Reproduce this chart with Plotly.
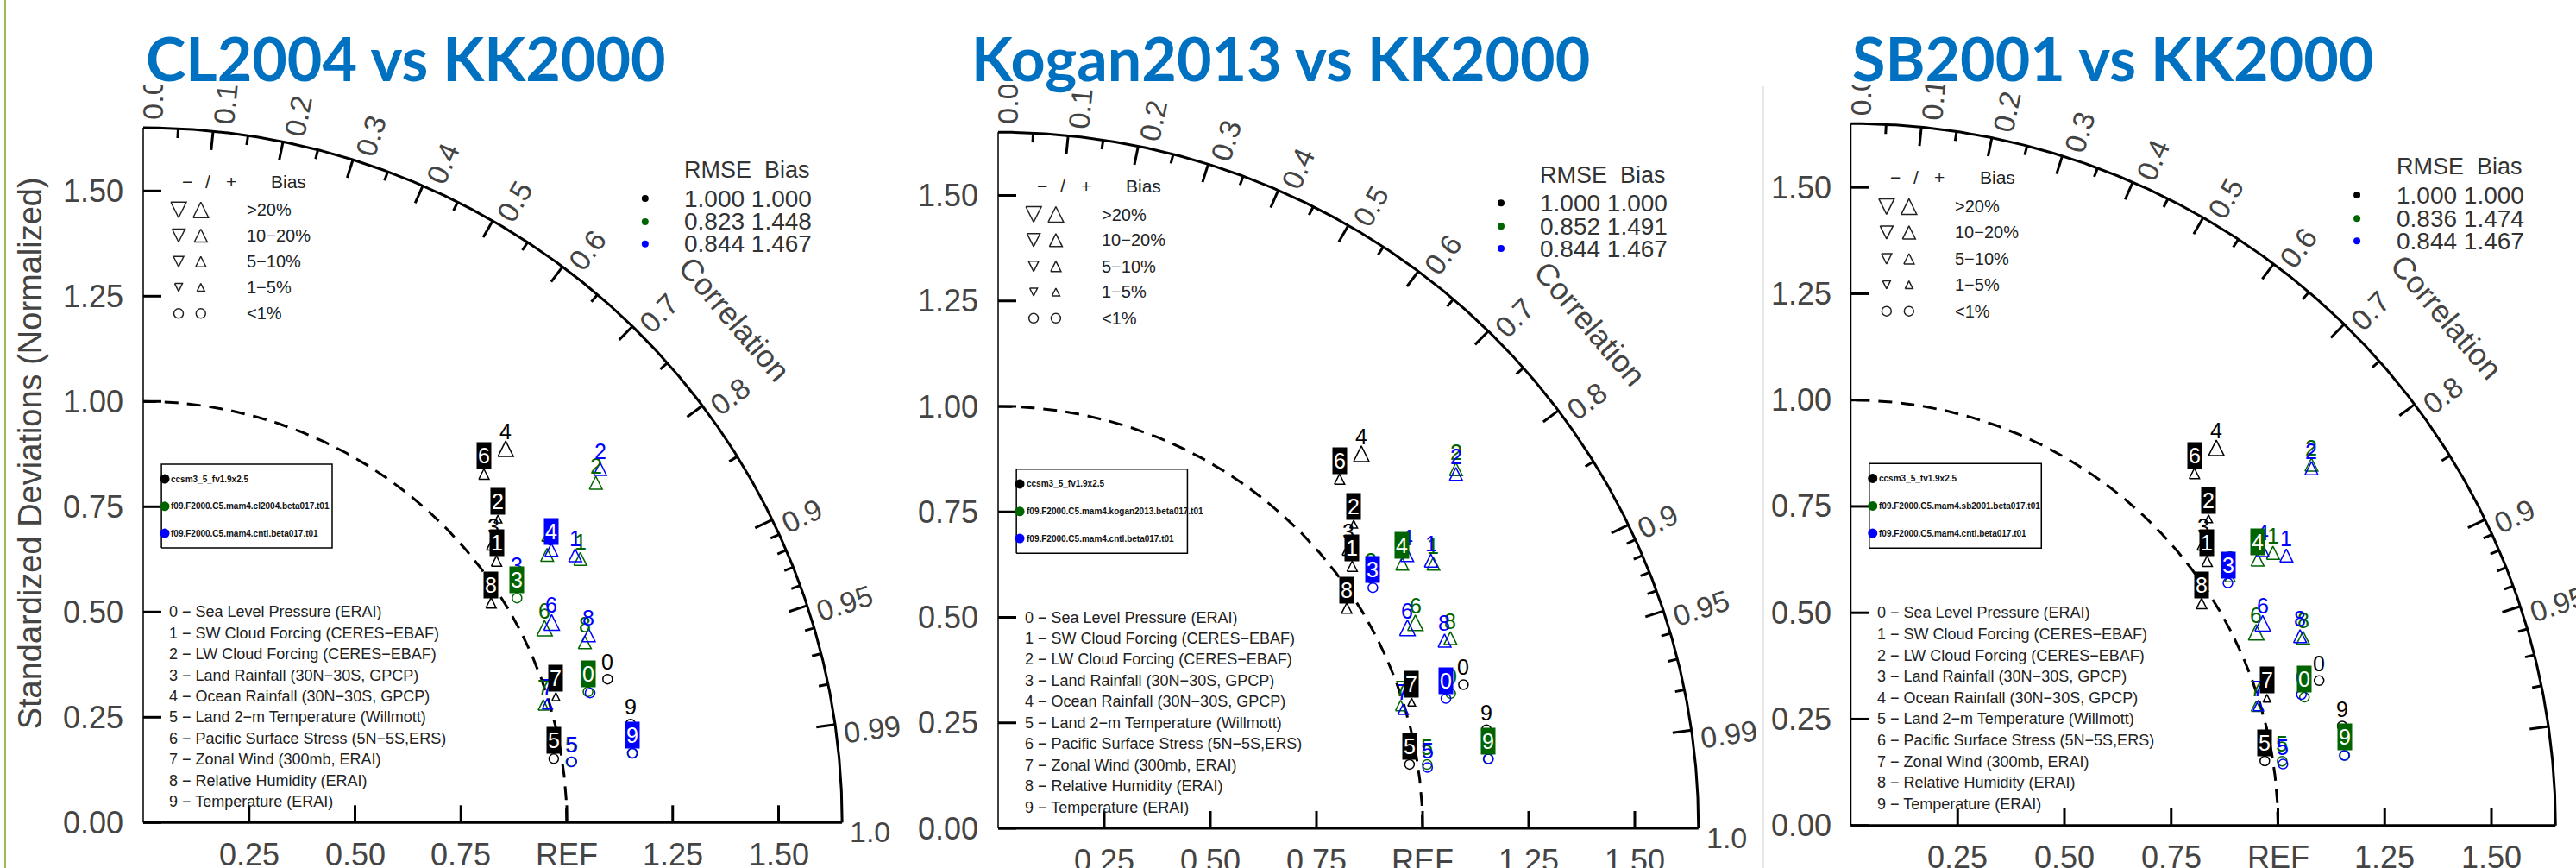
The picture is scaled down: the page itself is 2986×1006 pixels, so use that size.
import numpy as np
import plotly.graph_objects as go

W, H = 2986, 1006

# ---------------------------------------------------------------- data
PANEL_TITLES = ["CL2004 vs KK2000", "Kogan2013 vs KK2000", "SB2001 vs KK2000"]
BASE_CASE = "ccsm3_5_fv1.9x2.5"
CNTL_CASE = "f09.F2000.C5.mam4.cntl.beta017.t01"
TEST_CASES = [
    "f09.F2000.C5.mam4.cl2004.beta017.t01",
    "f09.F2000.C5.mam4.kogan2013.beta017.t01",
    "f09.F2000.C5.mam4.sb2001.beta017.t01",
]
VARIABLES = [
    "Sea Level Pressure (ERAI)",
    "SW Cloud Forcing (CERES\u2212EBAF)",
    "LW Cloud Forcing (CERES\u2212EBAF)",
    "Land Rainfall (30N\u221230S, GPCP)",
    "Ocean Rainfall (30N\u221230S, GPCP)",
    "Land 2\u2212m Temperature (Willmott)",
    "Pacific Surface Stress (5N\u22125S,ERS)",
    "Zonal Wind (300mb, ERAI)",
    "Relative Humidity (ERAI)",
    "Temperature (ERAI)",
]

# normalized standard deviation and pattern correlation for variables 0-9
BASE_STD = [1.148, 1.040, 1.105, 1.059, 1.233, 0.981, 1.154, 1.019, 0.973, 1.174]
BASE_COR = [0.955, 0.802, 0.758, 0.780, 0.694, 0.988, 0.697, 0.956, 0.844, 0.980]
CNTL_STD = [1.099, 1.201, 1.367, 1.051, 1.161, 1.022, 1.075, 0.995, 1.142, 1.167]
CNTL_COR = [0.960, 0.849, 0.789, 0.840, 0.830, 0.990, 0.897, 0.959, 0.921, 0.990]
TEST_STD = [
    [1.095, 1.207, 1.339, 1.031, 1.146, 1.020, 1.054, 0.985, 1.127, 1.166],
    [1.113, 1.202, 1.374, 1.060, 1.140, 1.022, 1.097, 0.992, 1.157, 1.166],
    [1.104, 1.178, 1.372, 1.063, 1.139, 1.021, 1.052, 0.990, 1.147, 1.168],
]
TEST_COR = [
    [0.959, 0.855, 0.798, 0.856, 0.832, 0.990, 0.899, 0.959, 0.925, 0.990],
    [0.958, 0.853, 0.785, 0.829, 0.835, 0.989, 0.896, 0.956, 0.921, 0.990],
    [0.962, 0.839, 0.786, 0.835, 0.836, 0.989, 0.902, 0.959, 0.923, 0.990],
]
# bias class: 0 <1%, 1 1-5%, 2 5-10%, 3 10-20%, 4 >20% (sign +1 = positive)
BASE_BIAS = [0, 2, 1, 3, 4, 0, 2, 1, 2, 0]
CNTL_BIAS = [0, 3, 3, 0, 3, 0, 4, 2, 3, 0]
TEST_BIAS = [
    [0, 3, 3, 0, 3, 0, 4, 2, 3, 0],
    [0, 3, 3, 0, 3, 0, 4, 2, 3, 0],
    [0, 3, 3, 2, 3, 0, 4, 2, 3, 0],
]
BIAS_SIGN = 1
# case with the best skill per variable (0 base, 1 test, 2 cntl): boxed label
BEST = [
    [1, 0, 0, 1, 2, 0, 0, 0, 0, 2],
    [2, 0, 0, 2, 1, 0, 0, 0, 0, 1],
    [1, 0, 0, 2, 1, 0, 0, 0, 0, 1],
]
RMSE_SCORE = [[1.000, 0.823, 0.844], [1.000, 0.852, 0.844], [1.000, 0.836, 0.844]]
BIAS_SCORE = [[1.000, 1.448, 1.467], [1.000, 1.491, 1.467], [1.000, 1.474, 1.467]]

STD_TICKS = [0.0, 0.25, 0.5, 0.75, 1.0, 1.25, 1.5]
X_TICKS = [0.25, 0.5, 0.75, 1.0, 1.25, 1.5]
X_TICK_TEXT = ["0.25", "0.50", "0.75", "REF", "1.25", "1.50"]
COR_MAJOR = [0.1, 0.2, 0.3, 0.4, 0.5, 0.6, 0.7, 0.8, 0.9, 0.95, 0.99]
COR_MINOR = [0.05, 0.15, 0.25, 0.35, 0.45, 0.55, 0.65, 0.75, 0.85,
             0.91, 0.92, 0.93, 0.94, 0.96, 0.97, 0.98]
COR_LABELS = ["0.0", "0.1", "0.2", "0.3", "0.4", "0.5", "0.6", "0.7", "0.8",
              "0.9", "0.95", "0.99", "1.0"]
BIAS_LEGEND = [">20%", "10\u221220%", "5\u221210%", "1\u22125%", "<1%"]

# ---------------------------------------------------------------- style
SANS = "Liberation Sans, Arial, sans-serif"
TITLE_FONT = "Lato, Open Sans, sans-serif"
GREY = "#444444"
CASE_COLORS = ["#000000", "#006400", "#0000ff"]
TRI_PX = {1: 9, 2: 12, 3: 15, 4: 18}
RMAX = 1.65

# pixel origin and pixels per unit of each panel
ORIGIN_PX = [(166, 953.3), (1157, 960), (2145.5, 956.7)]
UNIT_PX = [(491, 488), (492, 489), (495, 493)]
TITLE_LEFT_PX = [167, 1124, 2145]
TITLE_BOX_PX = [(150, 640), (1140, 720), (2130, 630)]

fig = go.Figure()
annotations = []
theta = np.linspace(0, np.pi / 2, 400)


def axis_names(p):
    return ("x", "y") if p == 0 else (f"x{p + 1}", f"y{p + 1}")


for p in range(3):
    ox, oy = ORIGIN_PX[p]
    ux, uy = UNIT_PX[p]
    xa, ya = axis_names(p)
    xkey = "xaxis" if p == 0 else f"xaxis{p + 1}"
    ykey = "yaxis" if p == 0 else f"yaxis{p + 1}"
    fig.update_layout(**{
        xkey: dict(domain=[0, 1], range=[-ox / ux, (W - ox) / ux], visible=False,
                   fixedrange=True, anchor=ya),
        ykey: dict(domain=[0, 1], range=[(oy - H) / uy, oy / uy], visible=False,
                   fixedrange=True, anchor=xa),
    })

    def line(xs, ys, width, color="black", dash=None, fill=None):
        fig.add_trace(go.Scatter(
            x=xs, y=ys, mode="lines", xaxis=xa, yaxis=ya, hoverinfo="skip",
            line=dict(color=color, width=width, dash=dash),
            fill=fill, fillcolor="white" if fill else None))

    def ann(x, y, text, size, color=GREY, xanchor="center", yanchor="middle",
            angle=0, family=SANS, **kw):
        annotations.append(dict(
            x=x, y=y, xref=xa, yref=ya, text=text, showarrow=False,
            xanchor=xanchor, yanchor=yanchor, textangle=angle,
            font=dict(family=family, size=size, color=color), **kw))

    # frame: std-dev axis, x axis, outer arc, REF arc
    line([0, 0], [0, RMAX], 1.5)
    line([0, RMAX], [0, 0], 3)
    line(RMAX * np.cos(theta), RMAX * np.sin(theta), 3)
    line(np.cos(theta), np.sin(theta), 3, dash="16px,10px")

    # std-dev ticks
    tx, ty = [], []
    for v in STD_TICKS:
        tx += [0, 21 / ux, None]
        ty += [v, v, None]
    for v in X_TICKS:
        tx += [v, v, None]
        ty += [0, 20 / uy, None]
    # correlation ticks on the outer arc
    for cors, length in ((COR_MAJOR, 22), (COR_MINOR, 11)):
        for c in cors:
            a = np.arccos(c)
            r1 = RMAX - length / ux
            tx += [RMAX * np.cos(a), r1 * np.cos(a), None]
            ty += [RMAX * np.sin(a), r1 * np.sin(a), None]
    line(tx, ty, 3)

    for v in STD_TICKS:
        ann(-21 / ux, v, f"{v:.2f}", 36, xanchor="right")
    for v, t in zip(X_TICKS, X_TICK_TEXT):
        ann(v, -37 / uy, t, 36)

    # correlation labels, rotated along the radius
    for t in COR_LABELS:
        c = float(t)
        a = np.arccos(c)
        fs = 34
        ndig = len(t) - 1
        length = fs * (0.556 * ndig + 0.278)
        rc = RMAX + (9 + length / 2) / ux
        off = 11 / ux
        ann(rc * np.cos(a) + off * np.sin(a), rc * np.sin(a) - off * np.cos(a),
            t, fs, angle=-np.degrees(a))
    ann(1.837 * np.cos(np.radians(40.6)), 1.837 * np.sin(np.radians(40.6)),
        "Correlation", 36, angle=90 - 40.6)
    if p == 0:
        ann(-131 / ux, 0.877, "Standardized Deviations (Normalized)", 38, angle=-90)

    # RMSE / bias score table
    ann(1.273, 1.549, "RMSE\u00a0\u00a0Bias", 27, color="#333333", xanchor="left")
    rows_y = [1.482, 1.427, 1.374]
    fig.add_trace(go.Scatter(
        x=[1.185] * 3, y=rows_y, mode="markers", xaxis=xa, yaxis=ya, hoverinfo="skip",
        marker=dict(size=8, color=CASE_COLORS)))
    for k in range(3):
        ann(1.273, rows_y[k], f"{RMSE_SCORE[p][k]:.3f} {BIAS_SCORE[p][k]:.3f}", 28,
            color="#333333", xanchor="left")

    # bias symbol key
    ann(0.104, 1.523, "\u2212", 21, color="#222222")
    ann(0.153, 1.523, "/", 21, color="#222222")
    ann(0.208, 1.523, "+", 21, color="#222222")
    ann(0.297, 1.523, "Bias", 21, color="#222222", xanchor="left")
    key_y = [1.455, 1.394, 1.332, 1.271, 1.209]
    kx, ky = [], []
    for cls, yk in zip([4, 3, 2, 1], key_y):
        w = TRI_PX[cls] / ux
        h = TRI_PX[cls] / uy
        xd, xu = 0.0835, 0.136
        kx += [xd - w / 2, xd + w / 2, xd, xd - w / 2, None,
               xu - w / 2, xu + w / 2, xu, xu - w / 2, None]
        ky += [yk + h / 2, yk + h / 2, yk - h / 2, yk + h / 2, None,
               yk - h / 2, yk - h / 2, yk + h / 2, yk - h / 2, None]
    line(kx, ky, 1.5, color="#222222")
    fig.add_trace(go.Scatter(
        x=[0.0835, 0.136], y=[key_y[4]] * 2, mode="markers", xaxis=xa, yaxis=ya,
        hoverinfo="skip",
        marker=dict(symbol="circle-open", size=11, color="#222222", line=dict(width=1.5))))
    for t, yk in zip(BIAS_LEGEND, key_y):
        ann(0.240, yk, t, 20, color="#222222", xanchor="left")

    # case legend box
    line([0.043, 0.446, 0.446, 0.043, 0.043], [0.652, 0.652, 0.851, 0.851, 0.652],
         1.5, fill="toself")
    case_y = [0.816, 0.751, 0.687]
    fig.add_trace(go.Scatter(
        x=[0.051] * 3, y=case_y, mode="markers", xaxis=xa, yaxis=ya, hoverinfo="skip",
        marker=dict(size=11, color=CASE_COLORS)))
    for name, yk in zip([BASE_CASE, TEST_CASES[p], CNTL_CASE], case_y):
        ann(0.062, yk, f"<b>{name}</b>", 10, color="#111111", xanchor="left")

    # variable key
    for k, name in enumerate(VARIABLES):
        ann(0.058, 0.5 - 0.05 * k, f"{k} \u2212 {name}", 18, color="#222222",
            xanchor="left")

    # case markers: triangles for bias classes, circles for |bias| < 1%
    cases = [
        (BASE_STD, BASE_COR, BASE_BIAS),
        (TEST_STD[p], TEST_COR[p], TEST_BIAS[p]),
        (CNTL_STD, CNTL_COR, CNTL_BIAS),
    ]
    label_plain, label_boxed = [], []
    for ci, (std, cor, bias) in enumerate(cases):
        std = np.asarray(std)
        cor = np.asarray(cor)
        px = std * cor
        py = std * np.sqrt(1 - cor ** 2)
        trix, triy, cx, cy = [], [], [], []
        for k in range(10):
            cls = bias[k]
            if cls == 0:
                cx.append(px[k])
                cy.append(py[k])
                continue
            w = TRI_PX[cls] / ux
            h = TRI_PX[cls] / uy * BIAS_SIGN
            trix += [px[k] - w / 2, px[k] + w / 2, px[k], px[k] - w / 2, None]
            triy += [py[k] - h / 2, py[k] - h / 2, py[k] + h / 2, py[k] - h / 2, None]
        line(trix, triy, 1.5, color=CASE_COLORS[ci])
        fig.add_trace(go.Scatter(
            x=cx, y=cy, mode="markers", xaxis=xa, yaxis=ya, hoverinfo="skip",
            marker=dict(symbol="circle-open", size=11, color=CASE_COLORS[ci],
                        line=dict(width=1.5))))
        for k in range(10):
            entry = (px[k], py[k], str(k), ci)
            (label_boxed if BEST[p][k] == ci else label_plain).append(entry)

    for x, y, t, ci in label_plain:
        ann(x, y, t, 25, color=CASE_COLORS[ci], yshift=20)
    for x, y, t, ci in label_boxed:
        ann(x, y, t, 25, color="white", yshift=21, bgcolor=CASE_COLORS[ci],
            borderpad=1)

# white title boxes, then the titles
for p in range(3):
    bx, bw = TITLE_BOX_PX[p]
    annotations.append(dict(
        x=bx / W, y=1, xref="paper", yref="paper", xanchor="left", yanchor="top",
        text="\u00a0", showarrow=False, width=bw, height=97, bgcolor="white",
        borderpad=0, font=dict(size=10)))
    annotations.append(dict(
        x=TITLE_LEFT_PX[p] / W, y=1 - 67 / H, xref="paper", yref="paper",
        xanchor="left", yanchor="middle", text=f"<b>{PANEL_TITLES[p]}</b>",
        showarrow=False,
        font=dict(family=TITLE_FONT, size=70, color="#0070c0")))

fig.update_layout(
    width=W, height=H, margin=dict(l=0, r=0, t=0, b=0),
    paper_bgcolor="white", plot_bgcolor="rgba(0,0,0,0)",
    showlegend=False, annotations=annotations,
    shapes=[
        dict(type="line", xref="paper", yref="paper", x0=6 / W, x1=6 / W, y0=0, y1=1,
             line=dict(color="#9bbb59", width=2)),
        dict(type="line", xref="paper", yref="paper", x0=2044 / W, x1=2044 / W,
             y0=0, y1=1 - 100 / H, line=dict(color="#d0d0d0", width=1)),
    ],
)

fig.write_html("out.html")
